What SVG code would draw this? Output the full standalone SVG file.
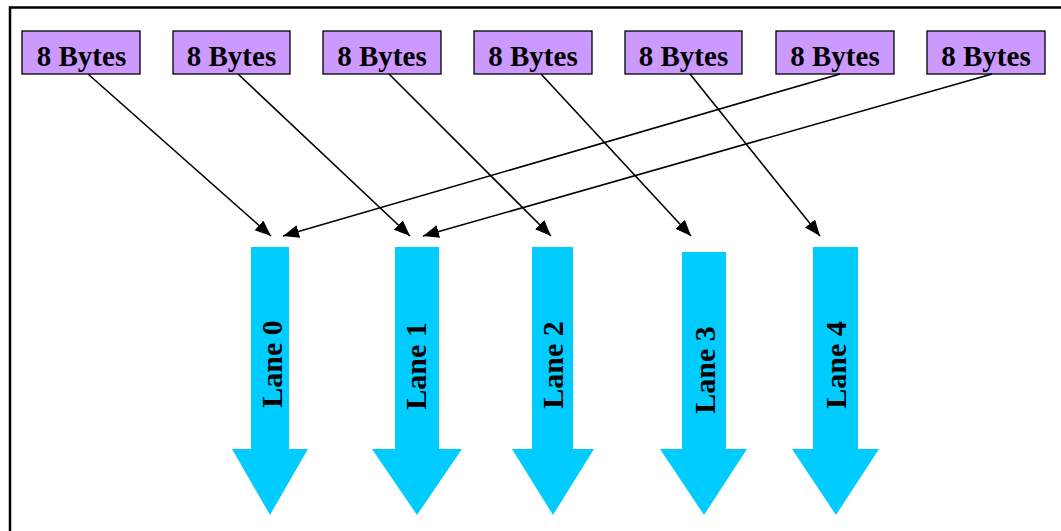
<svg xmlns="http://www.w3.org/2000/svg" width="1061" height="531" viewBox="0 0 1061 531">
<style>
.box{fill:#CC99FF;stroke:#000;stroke-width:1.3}
.bt{font-family:"Liberation Serif",serif;font-weight:bold;font-size:29px;fill:#000;text-anchor:middle}
.lane{fill:#00CCFF}
.lt{font-family:"Liberation Serif",serif;font-weight:bold;font-size:30px;fill:#000;text-anchor:middle}
.c{stroke:#000;stroke-width:1.6;fill:none;marker-end:url(#ah)}
</style>
<defs>
<marker id="ah" markerUnits="userSpaceOnUse" markerWidth="18" markerHeight="14" refX="16" refY="6.5" orient="auto">
<path d="M0,0 L16,6.5 L0,13 Z" fill="#000"/>
</marker>
</defs>
<rect width="1061" height="531" fill="#fff"/>
<path d="M10,531 V7.5 H1061" fill="none" stroke="#000" stroke-width="2.5"/>
<g id="b1"><rect class="box" x="22" y="31" width="118" height="43"/><text class="bt" x="81.5" y="65.5">8 Bytes</text></g>
<g id="b2"><rect class="box" x="173" y="31" width="117" height="43"/><text class="bt" x="231.5" y="65.5">8 Bytes</text></g>
<g id="b3"><rect class="box" x="323" y="31" width="118" height="43"/><text class="bt" x="382" y="65.5">8 Bytes</text></g>
<g id="b4"><rect class="box" x="474" y="31" width="118" height="43"/><text class="bt" x="533" y="65.5">8 Bytes</text></g>
<g id="b5"><rect class="box" x="625" y="31" width="117" height="43"/><text class="bt" x="683.5" y="65.5">8 Bytes</text></g>
<g id="b6"><rect class="box" x="776" y="31" width="118" height="43"/><text class="bt" x="835" y="65.5">8 Bytes</text></g>
<g id="b7"><rect class="box" x="927" y="31" width="118" height="43"/><text class="bt" x="986" y="65.5">8 Bytes</text></g>
<g id="lane0"><path class="lane" d="M251,247 H289 V449 H308 L270,515 L232,449 H251 Z"/><text class="lt" transform="translate(282,364) rotate(-90)">Lane 0</text></g>
<g id="lane1"><path class="lane" d="M395,247 H439 V449 H462 L417,515 L372,449 H395 Z"/><text class="lt" transform="translate(426,366) rotate(-90)">Lane 1</text></g>
<g id="lane2"><path class="lane" d="M532,247 H573 V449 H594 L553,515 L512,449 H532 Z"/><text class="lt" transform="translate(563,365) rotate(-90)">Lane 2</text></g>
<g id="lane3"><path class="lane" d="M682,252 H726 V449 H747 L704,515 L660,449 H682 Z"/><text class="lt" transform="translate(715,370) rotate(-90)">Lane 3</text></g>
<g id="lane4"><path class="lane" d="M813,247 H858 V449 H879 L836,515 L792,449 H813 Z"/><text class="lt" transform="translate(846,365) rotate(-90)">Lane 4</text></g>
<g id="connectors">
<path class="c" d="M88,74 L271,236"/>
<path class="c" d="M238,74 L410,236"/>
<path class="c" d="M389,74 L551,236"/>
<path class="c" d="M541,74 L691,236"/>
<path class="c" d="M690,74 L820,236"/>
<path class="c" d="M840,74 L283,236"/>
<path class="c" d="M992,74 L423,236"/>
</g>
</svg>
